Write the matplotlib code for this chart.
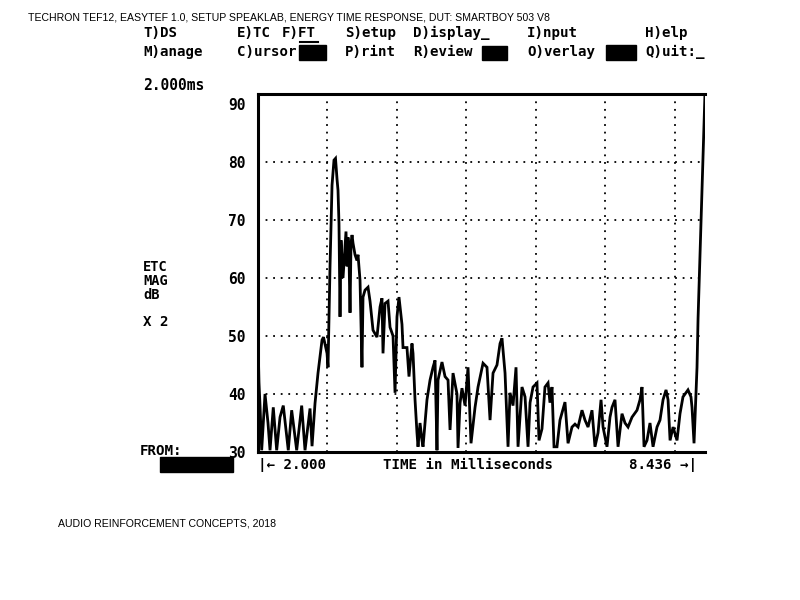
import matplotlib
matplotlib.use("Agg")
import matplotlib.pyplot as plt
from matplotlib.patches import Rectangle
from matplotlib.lines import Line2D

# ── Data ─────────────────────────────────────────────────────────────────────
time_ms = [
    2.000, 2.014, 2.029, 2.053, 2.101, 2.144, 2.173, 2.220, 2.269, 2.317,
    2.364, 2.436, 2.485, 2.557, 2.629, 2.677, 2.749, 2.778, 2.821, 2.864,
    2.922, 2.943, 2.994, 3.008, 3.037, 3.066, 3.094, 3.116, 3.138, 3.152,
    3.166, 3.181, 3.195, 3.224, 3.253, 3.267, 3.282, 3.296, 3.310, 3.325,
    3.339, 3.354, 3.368, 3.397, 3.425, 3.440, 3.469, 3.497, 3.512, 3.541,
    3.584, 3.613, 3.656, 3.713, 3.757, 3.785, 3.800, 3.829, 3.872, 3.901,
    3.929, 3.944, 3.973, 4.001, 4.030, 4.073, 4.088, 4.145, 4.174, 4.217,
    4.232, 4.261, 4.289, 4.304, 4.333, 4.361, 4.376, 4.433, 4.477, 4.520,
    4.549, 4.577, 4.592, 4.649, 4.693, 4.736, 4.765, 4.808, 4.865, 4.880,
    4.909, 4.937, 4.981, 5.024, 5.067, 5.125, 5.168, 5.240, 5.297, 5.341,
    5.384, 5.441, 5.485, 5.513, 5.557, 5.600, 5.629, 5.672, 5.715, 5.744,
    5.801, 5.845, 5.888, 5.917, 5.960, 6.017, 6.046, 6.089, 6.132, 6.176,
    6.204, 6.233, 6.262, 6.305, 6.348, 6.420, 6.464, 6.521, 6.564, 6.608,
    6.665, 6.708, 6.752, 6.809, 6.852, 6.896, 6.939, 6.968, 7.025, 7.068,
    7.097, 7.140, 7.184, 7.241, 7.284, 7.328, 7.385, 7.457, 7.500, 7.529,
    7.558, 7.601, 7.644, 7.688, 7.745, 7.788, 7.832, 7.875, 7.904, 7.933,
    7.976, 8.033, 8.076, 8.119, 8.191, 8.234, 8.249, 8.278, 8.321, 8.336,
    8.364, 8.436,
]
etc_db = [
    49.5, 42.0, 38.0, 30.3, 40.0, 35.0, 30.3, 37.7, 30.3, 36.0,
    38.0, 30.3, 37.2, 30.3, 38.0, 30.3, 37.5, 31.0, 38.4, 43.6,
    49.3, 49.8, 47.0, 44.6, 62.0, 76.0, 80.3, 80.6, 77.0, 75.1,
    69.4, 53.3, 66.5, 60.0, 65.3, 68.0, 62.0, 67.0, 64.0, 54.0,
    66.0, 67.4, 66.0, 64.0, 63.0, 64.0, 59.6, 44.6, 56.7, 57.9,
    58.4, 56.0, 51.0, 49.8, 55.0, 56.5, 47.0, 55.6, 56.0, 51.5,
    50.5, 50.0, 40.2, 53.3, 56.7, 52.0, 48.0, 48.0, 43.0, 48.7,
    47.0, 39.0, 33.3, 30.9, 35.0, 32.0, 30.9, 39.0, 42.4, 44.6,
    45.8, 30.3, 42.4, 45.5, 43.0, 42.4, 33.8, 43.6, 40.0, 30.7,
    38.4, 41.0, 38.0, 44.6, 31.5, 37.7, 41.2, 45.3, 44.6, 35.5,
    43.6, 45.0, 48.7, 49.6, 43.6, 30.9, 40.2, 38.0, 44.6, 30.9,
    41.2, 39.5, 30.9, 38.5, 41.2, 41.9, 32.0, 34.0, 41.2, 41.9,
    38.5, 41.2, 30.9, 30.9, 35.5, 38.6, 31.5, 34.3, 34.8, 34.3,
    37.2, 35.5, 34.3, 37.2, 30.9, 33.3, 39.0, 34.3, 30.9, 36.0,
    37.7, 39.0, 30.9, 36.6, 35.0, 34.3, 36.0, 37.2, 39.0, 41.2,
    30.9, 32.0, 35.0, 30.9, 34.3, 35.5, 39.0, 40.7, 39.0, 32.0,
    34.3, 32.0, 36.6, 39.5, 40.7, 39.5, 37.7, 31.5, 44.6, 53.0,
    64.0, 92.0,
]
y_ticks = [30, 40, 50, 60, 70, 80, 90]
x_grid = [3, 4, 5, 6, 7, 8]
t_start, t_end = 2.000, 8.436

menu_row1 = [("T)DS", 143), ("E)TC", 237), ("F)FT", 282), ("S)etup", 345),
             ("D)isplay_", 413), ("I)nput", 527), ("H)elp", 645)]
menu_row2 = [("M)anage", 143), ("C)ursor", 237), ("P)rint", 345),
             ("R)eview", 413), ("O)verlay", 527), ("Q)uit:_", 645)]

W, H = 800, 600
MONO = dict(family="DejaVu Sans Mono", fontweight="bold", color="black")


def fx(x):
    return x / W


def fy(y):
    return 1 - y / H


fig = plt.figure(figsize=(8, 6), dpi=100)
fig.patch.set_facecolor("white")

ax = fig.add_axes([fx(258), fy(452), fx(705) - fx(258), fy(94) - fy(452)])
ax.plot(time_ms, etc_db, color="black", lw=2.0, solid_joinstyle="miter")
ax.set_xlim(t_start, t_end)
ax.set_ylim(30, 91.7)

for v in y_ticks[1:-1]:
    ax.axhline(v, color="black", lw=1.3, ls=(0, (1, 3.2)))
for v in x_grid:
    ax.axvline(v, color="black", lw=1.3, ls=(0, (1, 3.2)))

ax.set_yticks(y_ticks)
ax.set_yticklabels([str(v) for v in y_ticks], **MONO, fontsize=10.5)
ax.tick_params(axis="y", length=0, pad=9)
ax.set_xticks([])
for s in ["top", "bottom", "left"]:
    ax.spines[s].set_linewidth(2.2)
ax.spines["right"].set_visible(False)

# ── Header and footer ────────────────────────────────────────────────────────
fig.text(fx(28), fy(17), "TECHRON TEF12, EASYTEF 1.0, SETUP SPEAKLAB, ENERGY TIME "
         "RESPONSE, DUT: SMARTBOY 503 V8", family="Liberation Sans",
         fontsize=7.6, va="center")
fig.text(fx(58), fy(524), "AUDIO REINFORCEMENT CONCEPTS, 2018",
         family="Liberation Sans", fontsize=7.6, va="center")

# ── TEF menu text ────────────────────────────────────────────────────────────
for label, x in menu_row1:
    fig.text(fx(x), fy(33), label, fontsize=10.2, va="center", **MONO)
for label, x in menu_row2:
    fig.text(fx(x), fy(52), label, fontsize=10.2, va="center", **MONO)
fig.add_artist(Line2D([fx(300), fx(318)], [fy(42), fy(42)], color="black", lw=1.5))

for x0, x1, y0, y1 in [(299, 326, 45, 60), (482, 507, 46, 60),
                       (606, 636, 45, 60), (160, 233, 457, 472)]:
    fig.add_artist(Rectangle((fx(x0), fy(y1)), fx(x1) - fx(x0), fy(y0) - fy(y1),
                             transform=fig.transFigure, color="black"))

fig.text(fx(143), fy(86), "2.000ms", fontsize=10.5, va="center", **MONO)
fig.text(fx(143), fy(267), "ETC", fontsize=9.8, va="center", **MONO)
fig.text(fx(143), fy(281), "MAG", fontsize=9.8, va="center", **MONO)
fig.text(fx(143), fy(295), "dB", fontsize=9.8, va="center", **MONO)
fig.text(fx(143), fy(322), "X 2", fontsize=10.2, va="center", **MONO)
fig.text(fx(140), fy(451), "FROM:", fontsize=10.2, va="center", **MONO)

fig.text(fx(258), fy(465), f"|\u2190 {t_start:.3f}", fontsize=10.2, va="center", **MONO)
fig.text(fx(383), fy(465), "TIME in Milliseconds", fontsize=10.2, va="center", **MONO)
fig.text(fx(697), fy(465), f"{t_end:.3f} \u2192|", fontsize=10.2, va="center",
         ha="right", **MONO)

fig.savefig("out.png", dpi=100, facecolor="white")
